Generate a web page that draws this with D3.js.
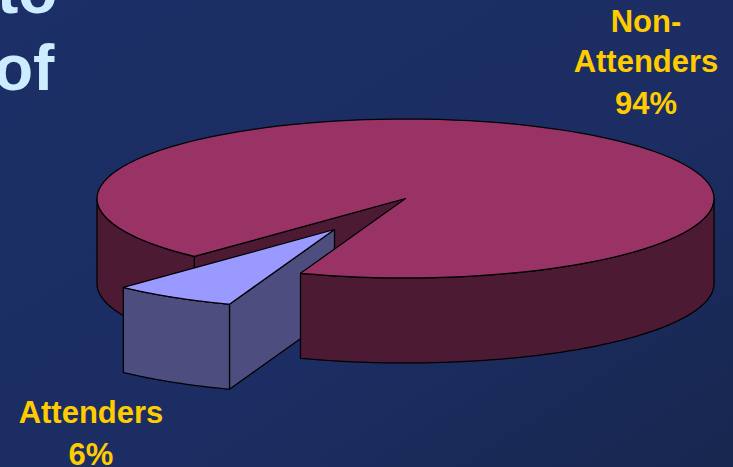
<!DOCTYPE html>
<html><head><meta charset="utf-8">
<script src="https://cdn.jsdelivr.net/npm/d3@7"></script>
<style>html,body{margin:0;padding:0;background:#1b2d62;overflow:hidden}svg{display:block}</style>
</head><body>
<script>
const categories = ["Non-Attenders", "Attenders"];
const shares = [94, 6];
const titleFragments = ["to", "of"];
const sliceTop = ["#993366", "#9999FF"];
const sliceSide = ["#4D1A33", "#4D4D80"];

const W = 733, H = 467;
const svg = d3.select("body").append("svg").attr("width", W).attr("height", H);
const defs = svg.append("defs");
const g = defs.append("linearGradient").attr("id", "bg").attr("x1", 0).attr("y1", 0).attr("x2", 1).attr("y2", 1);
g.append("stop").attr("offset", 0).attr("stop-color", "#1c2f66");
g.append("stop").attr("offset", 0.6).attr("stop-color", "#1b2d62");
g.append("stop").attr("offset", 1).attr("stop-color", "#18274f");
svg.append("rect").attr("width", W).attr("height", H).attr("fill", "url(#bg)");

// pie layout, rotated so the small slice faces front-left
const deg = Math.PI / 180;
const pie = d3.pie().sort(null).startAngle(223.2 * deg).endAngle((223.2 + 360) * deg);
const arcs = pie(shares);
const [main, small] = arcs;
// the tilt of the disc foreshortens the shared edge slightly
const foreshorten = 1.7 * deg;
const sharedEdge = small.startAngle - foreshorten;

// projection of the tilted disc
const sx = d3.scaleLinear().domain([-1, 1]).range([97, 714]);
const sy = d3.scaleLinear().domain([-1, 1]).range([119, 278]);
const depth = 85, ex = -71, ey = 31;
const px = (a, dx = 0) => sx(Math.sin(a)) + dx;
const py = (a, dy = 0) => sy(-Math.cos(a)) + dy;
const line = d3.line();
const samples = (a0, a1) => d3.range(0, 121).map(i => a0 + (a1 - a0) * i / 120);
const rimPts = (a0, a1, dx = 0, dy = 0) => samples(a0, a1).map(a => [px(a, dx), py(a, dy)]);
const draw = (pts, fill) => svg.append("path").attr("d", line(pts) + "Z")
  .attr("fill", fill).attr("stroke", "#000000").attr("stroke-width", 1.25).attr("stroke-linejoin", "round");
const topFace = (a0, a1, dx = 0, dy = 0) => [[sx(0) + dx, sy(0) + dy], ...rimPts(a0, a1, dx, dy)];
const wall = (a0, a1, dx = 0, dy = 0) => [...rimPts(a0, a1, dx, dy), ...rimPts(a1, a0, dx, dy + depth)];
const radial = (a, dx = 0, dy = 0) => [[sx(0) + dx, sy(0) + dy], [px(a, dx), py(a, dy)],
  [px(a, dx), py(a, dy + depth)], [sx(0) + dx, sy(0) + dy + depth]];

// far cut face and left wall of the large slice
draw(radial(main.startAngle), sliceSide[0]);
draw(wall(main.startAngle, 270 * deg), sliceSide[0]);

// exploded small slice
draw(radial(sharedEdge, ex, ey), sliceSide[1]);
draw(wall(sharedEdge, small.endAngle, ex, ey), sliceSide[1]);
draw(topFace(sharedEdge, small.endAngle, ex, ey), sliceTop[1]);

// front wall and top of the large slice
draw(wall(90 * deg, sharedEdge - 360 * deg), sliceSide[0]);
draw(topFace(main.startAngle, sharedEdge), sliceTop[0]);

// labels
const label = (lines, x, ys) => lines.forEach((t, i) => svg.append("text")
  .attr("x", x).attr("y", ys[i]).attr("text-anchor", "middle")
  .attr("font-family", "'Liberation Sans', Arial, sans-serif").attr("font-weight", 700)
  .attr("font-size", 31).attr("fill", "#FFCC00").text(t));
label(["Non-", categories[0].replace("Non-", ""), shares[0] + "%"], 646, [32, 72, 114]);
label([categories[1], shares[1] + "%"], 91, [423, 465]);

titleFragments.forEach((t, i) => svg.append("text")
  .attr("x", i === 0 ? -3 : -6).attr("y", i === 0 ? 13 : 90)
  .attr("font-family", "'Liberation Sans', Arial, sans-serif").attr("font-weight", 700)
  .attr("font-size", 64).attr("fill", "#CCECFF").text(t));
</script>
</body></html>
